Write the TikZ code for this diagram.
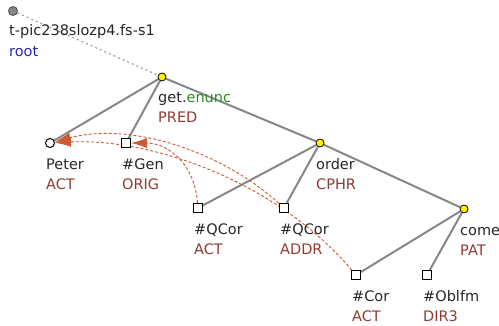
\documentclass[tikz,border=0pt]{standalone}
\usepackage{fontspec}
\setmainfont{DejaVu Sans}
\usetikzlibrary{arrows.meta,backgrounds}
\definecolor{edgegray}{RGB}{135,135,135}
\definecolor{functor}{RGB}{140,60,50}
\definecolor{lemmagreen}{RGB}{40,140,40}
\definecolor{rootblue}{RGB}{40,40,170}
\definecolor{corefred}{RGB}{205,90,50}
\begin{document}
\begin{tikzpicture}[x=1pt,y=-1pt,
    every node/.style={font=\fontsize{14.5}{17}\selectfont},
    tnode/.style={circle,draw=black,fill=yellow,minimum size=8pt,inner sep=0pt,line width=0.8pt},
    anode/.style={circle,draw=black,fill=white,minimum size=9pt,inner sep=0pt,line width=1pt},
    hnode/.style={rectangle,draw=black,fill=white,minimum size=9pt,inner sep=0pt,line width=1pt},
    rnode/.style={circle,draw=black!70,fill=edgegray,minimum size=9pt,inner sep=0pt,line width=0.8pt},
    lbl/.style={anchor=base west,inner sep=0pt,text=black!85},
    fun/.style={lbl,text=functor},
    treeedge/.style={draw=edgegray,line width=2pt},
    coref/.style={draw=corefred,line width=0.9pt,dash pattern=on 3pt off 2pt,-{Latex[length=16pt,width=10pt]}}]
  \clip (0,0) rectangle (499,326);
  % tree nodes
  \node[rnode] (root) at (13,11) {};
  \node[tnode] (get) at (162,77) {};
  \node[anode] (peter) at (50,143) {};
  \node[hnode] (gen) at (126,143) {};
  \node[tnode] (order) at (320,143) {};
  \node[hnode] (qact) at (198,208) {};
  \node[hnode] (qaddr) at (284,208) {};
  \node[tnode] (come) at (464,209) {};
  \node[hnode] (cor) at (356,275) {};
  \node[hnode] (oblfm) at (427,275) {};
  \begin{pgfonlayer}{background}
  % edges
  \draw[draw=edgegray!80,line width=1.2pt,dash pattern=on 2pt off 3pt] (root) -- (get);
  \draw[treeedge] (get) -- (peter);
  \draw[treeedge] (get) -- (gen);
  \draw[treeedge] (get) -- (order);
  \draw[treeedge] (order) -- (qact);
  \draw[treeedge] (order) -- (qaddr);
  \draw[treeedge] (order) -- (come);
  \draw[treeedge] (come) -- (cor);
  \draw[treeedge] (come) -- (oblfm);
  % coreference
  \draw[coref] (qact) .. controls (194,160) and (165,143) .. (gen);
  \draw[coref] (qaddr) .. controls (220,150) and (130,122) .. (peter);
  \draw[coref] (cor) .. controls (275,180) and (150,138) .. (peter);
  \end{pgfonlayer}
  % labels
  \node[lbl] at ([shift={(-4,25)}]root.center) {t-pic238slozp4.fs-s1};
  \node[lbl,text=rootblue] at ([shift={(-4,46)}]root.center) {root};
  \node[lbl] at ([shift={(-4,26)}]get.center) {get.\textcolor{lemmagreen}{enunc}};
  \node[fun] at ([shift={(-4,46)}]get.center) {PRED};
  \node[lbl] at ([shift={(-4,27)}]peter.center) {Peter};
  \node[fun] at ([shift={(-4,47)}]peter.center) {ACT};
  \node[lbl] at ([shift={(-4,27)}]gen.center) {\#Gen};
  \node[fun] at ([shift={(-4,47)}]gen.center) {ORIG};
  \node[lbl] at ([shift={(-4,27)}]order.center) {order};
  \node[fun] at ([shift={(-4,47)}]order.center) {CPHR};
  \node[lbl] at ([shift={(-4,27)}]qact.center) {\#QCor};
  \node[fun] at ([shift={(-4,47)}]qact.center) {ACT};
  \node[lbl] at ([shift={(-4,27)}]qaddr.center) {\#QCor};
  \node[fun] at ([shift={(-4,47)}]qaddr.center) {ADDR};
  \node[lbl] at ([shift={(-4,27)}]come.center) {come};
  \node[fun] at ([shift={(-4,47)}]come.center) {PAT};
  \node[lbl] at ([shift={(-4,27)}]cor.center) {\#Cor};
  \node[fun] at ([shift={(-4,47)}]cor.center) {ACT};
  \node[lbl] at ([shift={(-4,27)}]oblfm.center) {\#Oblfm};
  \node[fun] at ([shift={(-4,47)}]oblfm.center) {DIR3};
\end{tikzpicture}
\end{document}
